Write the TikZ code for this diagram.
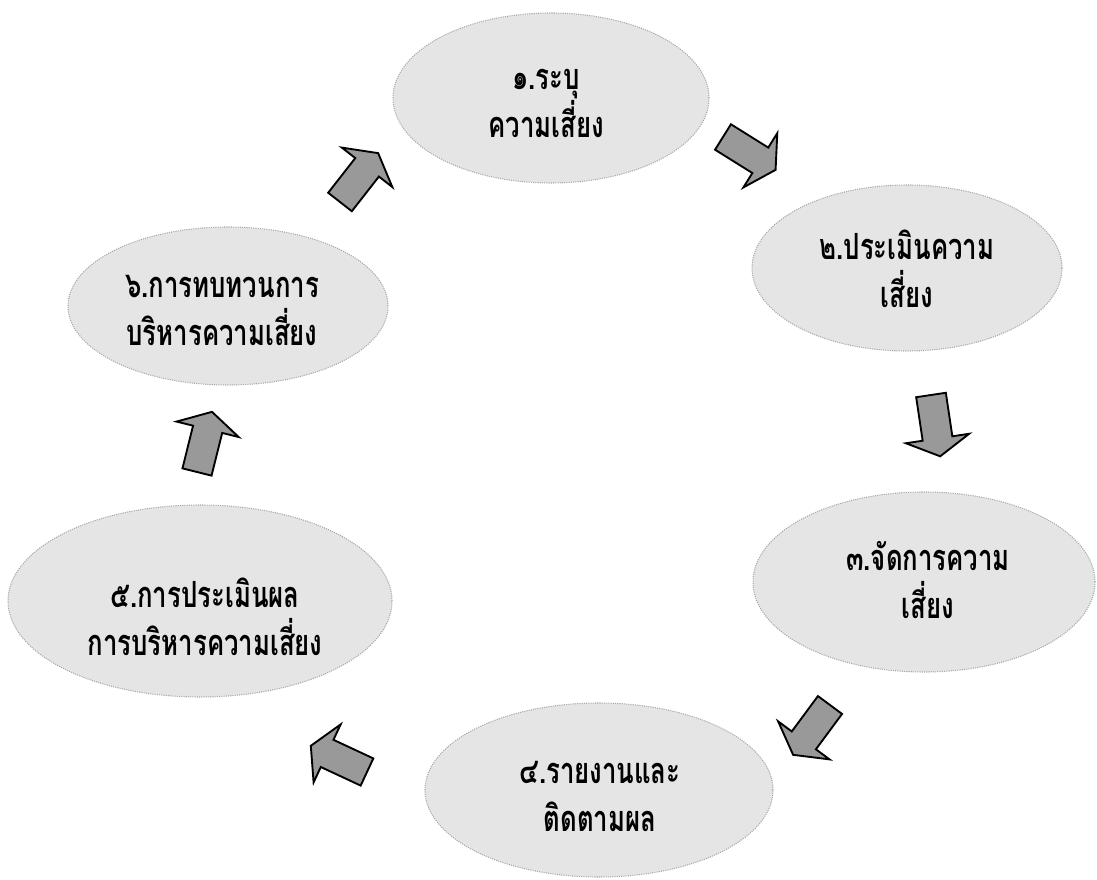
\documentclass[tikz,border=0pt]{standalone}
\usepackage{fontspec}
\usepackage{graphicx}
\newfontfamily\thaifont[Script=Thai]{Loma}
\usetikzlibrary{shapes.geometric}
\newcommand{\tline}[1]{\scalebox{1}[1.4]{#1}}
\tikzset{
  blob/.style={ellipse, draw=gray!70, densely dotted, line width=0.9pt, fill=gray!20, inner sep=0pt},
  lbl/.style={font=\thaifont\bfseries\fontsize{22}{41}\selectfont, align=center, text=black},
  barrowsty/.style={draw=black, line width=1.6pt, fill=gray!80, line join=miter},
}
\newcommand{\blockarrow}[2]{\draw[barrowsty, shift={#1}, rotate=#2] (0,-15) -- (44,-15) -- (44,-32) -- (62,0) -- (44,32) -- (44,15) -- (0,15) -- cycle;}
\begin{document}
\begin{tikzpicture}[x=0.03cm, y=-0.03cm]
\useasboundingbox (0,0) rectangle (1097,880);
\fill[white] (0,0) rectangle (1097,880);
% ellipses
\node[blob, minimum width=9.48cm, minimum height=5.1cm] (e1) at (551,98) {};
\node[blob, minimum width=9.3cm, minimum height=4.98cm] (e2) at (907,268) {};
\node[blob, minimum width=10.26cm, minimum height=5.4cm] (e3) at (924,582) {};
\node[blob, minimum width=10.44cm, minimum height=5.22cm] (e4) at (599,790) {};
\node[blob, minimum width=11.52cm, minimum height=5.76cm] (e5) at (200,601) {};
\node[blob, minimum width=9.6cm, minimum height=4.74cm] (e6) at (228,306) {};
% labels
\node[lbl] (t1) at (546,103) {\tline{๑.ระบุ}\\\tline{ความเสี่ยง}};
\node[lbl] (t2) at (907,269) {\tline{๒.ประเมินความ}\\\tline{เสี่ยง}};
\node[lbl] (t3) at (928,580) {\tline{๓.จัดการความ}\\\tline{เสี่ยง}};
\node[lbl] (t4) at (600,796) {\tline{๔.รายงานและ}\\\tline{ติดตามผล}};
\node[lbl] (t5) at (205,617) {\tline{๕.การประเมินผล}\\\tline{การบริหารความเสี่ยง}};
\node[lbl] (t6) at (222,310) {\tline{๖.การทบทวนการ}\\\tline{บริหารความเสี่ยง}};
% block arrows
\blockarrow{(723,137)}{-32}
\blockarrow{(931,395)}{-81.5}
\blockarrow{(830,705)}{233.5}
\blockarrow{(367,772)}{155}
\blockarrow{(197,472)}{76}
\blockarrow{(340,202)}{52}
\end{tikzpicture}
\end{document}
